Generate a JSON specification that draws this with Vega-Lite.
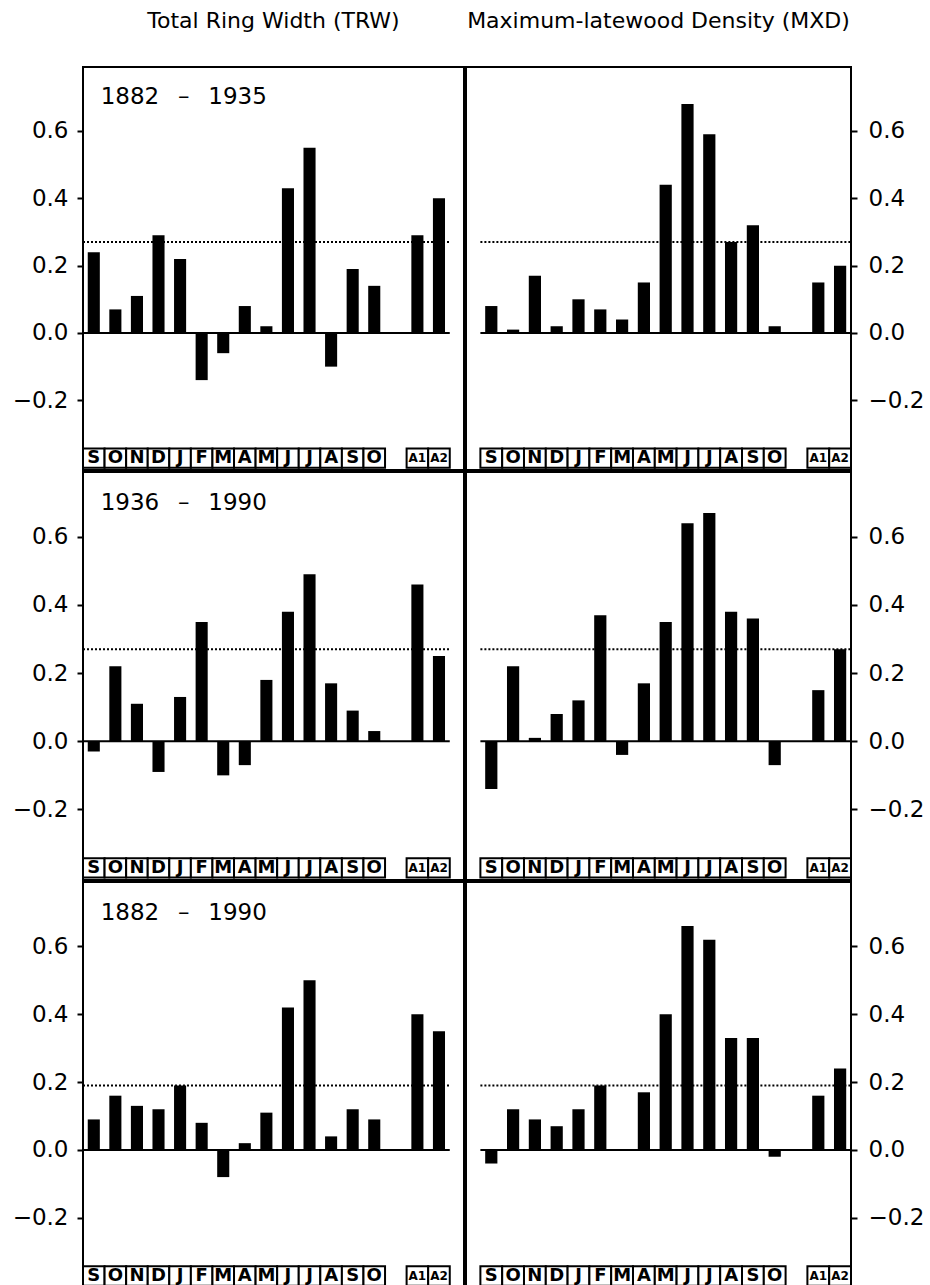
{
"$schema":"https://vega.github.io/schema/vega-lite/v6.json",
"padding":{"left":5,"top":9,"right":5,"bottom":0},
"background":"white",
"config":{"view":{"stroke":"black","strokeWidth":2},
"axis":{"grid":false,"domain":false,"tickColor":"black","tickWidth":2,"tickSize":6,"labelFontSize":23,"labelColor":"black","labelFont":"DejaVu Sans","title":null},
"title":{"fontSize":22,"fontWeight":"normal","font":"DejaVu Sans","color":"black","offset":34}},
"datasets":{
"months":[{"m":"Sep-1","lab":"S"},{"m":"Oct-1","lab":"O"},{"m":"Nov-1","lab":"N"},{"m":"Dec-1","lab":"D"},{"m":"Jan","lab":"J"},{"m":"Feb","lab":"F"},{"m":"Mar","lab":"M"},{"m":"Apr","lab":"A"},{"m":"May","lab":"M"},{"m":"Jun","lab":"J"},{"m":"Jul","lab":"J"},{"m":"Aug","lab":"A"},{"m":"Sep","lab":"S"},{"m":"Oct","lab":"O"},{"m":"A1","lab":"A1"},{"m":"A2","lab":"A2"}],
"panels":[{"s":"TRW","p":"1882-1935","label":"1882 \u2002\u2013\u2002 1935","level":0.27},{"s":"MXD","p":"1882-1935","label":"1882 \u2002\u2013\u2002 1935","level":0.27},{"s":"TRW","p":"1936-1990","label":"1936 \u2002\u2013\u2002 1990","level":0.27},{"s":"MXD","p":"1936-1990","label":"1936 \u2002\u2013\u2002 1990","level":0.27},{"s":"TRW","p":"1882-1990","label":"1882 \u2002\u2013\u2002 1990","level":0.19},{"s":"MXD","p":"1882-1990","label":"1882 \u2002\u2013\u2002 1990","level":0.19}],
"corr":[
{"s":"TRW","p":"1882-1935","m":"Sep-1","r":0.24},{"s":"TRW","p":"1882-1935","m":"Oct-1","r":0.07},{"s":"TRW","p":"1882-1935","m":"Nov-1","r":0.11},{"s":"TRW","p":"1882-1935","m":"Dec-1","r":0.29},{"s":"TRW","p":"1882-1935","m":"Jan","r":0.22},{"s":"TRW","p":"1882-1935","m":"Feb","r":-0.14},{"s":"TRW","p":"1882-1935","m":"Mar","r":-0.06},{"s":"TRW","p":"1882-1935","m":"Apr","r":0.08},{"s":"TRW","p":"1882-1935","m":"May","r":0.02},{"s":"TRW","p":"1882-1935","m":"Jun","r":0.43},{"s":"TRW","p":"1882-1935","m":"Jul","r":0.55},{"s":"TRW","p":"1882-1935","m":"Aug","r":-0.10},{"s":"TRW","p":"1882-1935","m":"Sep","r":0.19},{"s":"TRW","p":"1882-1935","m":"Oct","r":0.14},{"s":"TRW","p":"1882-1935","m":"A1","r":0.29},{"s":"TRW","p":"1882-1935","m":"A2","r":0.40},
{"s":"MXD","p":"1882-1935","m":"Sep-1","r":0.08},{"s":"MXD","p":"1882-1935","m":"Oct-1","r":0.01},{"s":"MXD","p":"1882-1935","m":"Nov-1","r":0.17},{"s":"MXD","p":"1882-1935","m":"Dec-1","r":0.02},{"s":"MXD","p":"1882-1935","m":"Jan","r":0.10},{"s":"MXD","p":"1882-1935","m":"Feb","r":0.07},{"s":"MXD","p":"1882-1935","m":"Mar","r":0.04},{"s":"MXD","p":"1882-1935","m":"Apr","r":0.15},{"s":"MXD","p":"1882-1935","m":"May","r":0.44},{"s":"MXD","p":"1882-1935","m":"Jun","r":0.68},{"s":"MXD","p":"1882-1935","m":"Jul","r":0.59},{"s":"MXD","p":"1882-1935","m":"Aug","r":0.27},{"s":"MXD","p":"1882-1935","m":"Sep","r":0.32},{"s":"MXD","p":"1882-1935","m":"Oct","r":0.02},{"s":"MXD","p":"1882-1935","m":"A1","r":0.15},{"s":"MXD","p":"1882-1935","m":"A2","r":0.20},
{"s":"TRW","p":"1936-1990","m":"Sep-1","r":-0.03},{"s":"TRW","p":"1936-1990","m":"Oct-1","r":0.22},{"s":"TRW","p":"1936-1990","m":"Nov-1","r":0.11},{"s":"TRW","p":"1936-1990","m":"Dec-1","r":-0.09},{"s":"TRW","p":"1936-1990","m":"Jan","r":0.13},{"s":"TRW","p":"1936-1990","m":"Feb","r":0.35},{"s":"TRW","p":"1936-1990","m":"Mar","r":-0.10},{"s":"TRW","p":"1936-1990","m":"Apr","r":-0.07},{"s":"TRW","p":"1936-1990","m":"May","r":0.18},{"s":"TRW","p":"1936-1990","m":"Jun","r":0.38},{"s":"TRW","p":"1936-1990","m":"Jul","r":0.49},{"s":"TRW","p":"1936-1990","m":"Aug","r":0.17},{"s":"TRW","p":"1936-1990","m":"Sep","r":0.09},{"s":"TRW","p":"1936-1990","m":"Oct","r":0.03},{"s":"TRW","p":"1936-1990","m":"A1","r":0.46},{"s":"TRW","p":"1936-1990","m":"A2","r":0.25},
{"s":"MXD","p":"1936-1990","m":"Sep-1","r":-0.14},{"s":"MXD","p":"1936-1990","m":"Oct-1","r":0.22},{"s":"MXD","p":"1936-1990","m":"Nov-1","r":0.01},{"s":"MXD","p":"1936-1990","m":"Dec-1","r":0.08},{"s":"MXD","p":"1936-1990","m":"Jan","r":0.12},{"s":"MXD","p":"1936-1990","m":"Feb","r":0.37},{"s":"MXD","p":"1936-1990","m":"Mar","r":-0.04},{"s":"MXD","p":"1936-1990","m":"Apr","r":0.17},{"s":"MXD","p":"1936-1990","m":"May","r":0.35},{"s":"MXD","p":"1936-1990","m":"Jun","r":0.64},{"s":"MXD","p":"1936-1990","m":"Jul","r":0.67},{"s":"MXD","p":"1936-1990","m":"Aug","r":0.38},{"s":"MXD","p":"1936-1990","m":"Sep","r":0.36},{"s":"MXD","p":"1936-1990","m":"Oct","r":-0.07},{"s":"MXD","p":"1936-1990","m":"A1","r":0.15},{"s":"MXD","p":"1936-1990","m":"A2","r":0.27},
{"s":"TRW","p":"1882-1990","m":"Sep-1","r":0.09},{"s":"TRW","p":"1882-1990","m":"Oct-1","r":0.16},{"s":"TRW","p":"1882-1990","m":"Nov-1","r":0.13},{"s":"TRW","p":"1882-1990","m":"Dec-1","r":0.12},{"s":"TRW","p":"1882-1990","m":"Jan","r":0.19},{"s":"TRW","p":"1882-1990","m":"Feb","r":0.08},{"s":"TRW","p":"1882-1990","m":"Mar","r":-0.08},{"s":"TRW","p":"1882-1990","m":"Apr","r":0.02},{"s":"TRW","p":"1882-1990","m":"May","r":0.11},{"s":"TRW","p":"1882-1990","m":"Jun","r":0.42},{"s":"TRW","p":"1882-1990","m":"Jul","r":0.50},{"s":"TRW","p":"1882-1990","m":"Aug","r":0.04},{"s":"TRW","p":"1882-1990","m":"Sep","r":0.12},{"s":"TRW","p":"1882-1990","m":"Oct","r":0.09},{"s":"TRW","p":"1882-1990","m":"A1","r":0.40},{"s":"TRW","p":"1882-1990","m":"A2","r":0.35},
{"s":"MXD","p":"1882-1990","m":"Sep-1","r":-0.04},{"s":"MXD","p":"1882-1990","m":"Oct-1","r":0.12},{"s":"MXD","p":"1882-1990","m":"Nov-1","r":0.09},{"s":"MXD","p":"1882-1990","m":"Dec-1","r":0.07},{"s":"MXD","p":"1882-1990","m":"Jan","r":0.12},{"s":"MXD","p":"1882-1990","m":"Feb","r":0.19},{"s":"MXD","p":"1882-1990","m":"Mar","r":0.00},{"s":"MXD","p":"1882-1990","m":"Apr","r":0.17},{"s":"MXD","p":"1882-1990","m":"May","r":0.40},{"s":"MXD","p":"1882-1990","m":"Jun","r":0.66},{"s":"MXD","p":"1882-1990","m":"Jul","r":0.62},{"s":"MXD","p":"1882-1990","m":"Aug","r":0.33},{"s":"MXD","p":"1882-1990","m":"Sep","r":0.33},{"s":"MXD","p":"1882-1990","m":"Oct","r":-0.02},{"s":"MXD","p":"1882-1990","m":"A1","r":0.16},{"s":"MXD","p":"1882-1990","m":"A2","r":0.24}
]},
"resolve":{"scale":{"x":"independent","y":"independent"}},
"spacing":0,
"vconcat":[
{"spacing":0,"resolve":{"scale":{"x":"independent","y":"independent"}},"hconcat":[
{"width":381,"height":403,"title":{"text":"Total Ring Width (TRW)"},"layer":[
{"data":{"name":"corr"},"transform":[{"filter":"datum.s=='TRW' && datum.p=='1882-1935'"}],"mark":{"type":"bar","color":"black","width":{"band":0.56}},"encoding":{"x":{"field":"m","type":"nominal","scale":{"domain":["Sep-1","Oct-1","Nov-1","Dec-1","Jan","Feb","Mar","Apr","May","Jun","Jul","Aug","Sep","Oct","gap","A1","A2"],"paddingInner":0,"paddingOuter":0.33,"align":0},"axis":null},"y":{"field":"r","type":"quantitative","scale":{"domain":[-0.407,0.79],"nice":false},"axis":{"orient":"left","values":[-0.2,0,0.2,0.4,0.6],"format":".1f","minExtent":77,"maxExtent":77,"labelPadding":9}}}},
{"data":{"name":"panels"},"transform":[{"filter":"datum.s=='TRW' && datum.p=='1882-1935'"}],"mark":{"type":"rule","color":"black","strokeWidth":2},"encoding":{"x":{"datum":"Sep-1","bandPosition":0},"x2":{"datum":"A2","bandPosition":1},"y":{"datum":0}}},
{"data":{"name":"panels"},"transform":[{"filter":"datum.s=='TRW' && datum.p=='1882-1935'"}],"mark":{"type":"rule","color":"black","strokeWidth":2,"strokeDash":[2,2]},"encoding":{"x":{"datum":"Sep-1","bandPosition":0},"x2":{"datum":"A2","bandPosition":1},"y":{"field":"level","type":"quantitative"}}},
{"data":{"name":"months"},"mark":{"type":"rect","fill":"white","stroke":"black","strokeWidth":2},"encoding":{"x":{"field":"m","type":"nominal"},"y":{"datum":-0.343},"y2":{"datum":-0.4}}},
{"data":{"name":"months"},"transform":[{"filter":"length(datum.lab)==1"}],"mark":{"type":"text","font":"DejaVu Sans","fontSize":18,"fontWeight":"bold","baseline":"middle","color":"black"},"encoding":{"x":{"field":"m","type":"nominal"},"y":{"datum":-0.372},"text":{"field":"lab"}}},
{"data":{"name":"months"},"transform":[{"filter":"length(datum.lab)==2"}],"mark":{"type":"text","font":"DejaVu Sans","fontSize":12,"fontWeight":"bold","baseline":"middle","color":"black"},"encoding":{"x":{"field":"m","type":"nominal"},"y":{"datum":-0.372},"text":{"field":"lab"}}},
{"data":{"name":"panels"},"transform":[{"filter":"datum.s=='TRW' && datum.p=='1882-1935'"}],"mark":{"type":"text","align":"left","baseline":"middle","fontSize":23,"font":"DejaVu Sans","color":"black"},"encoding":{"x":{"datum":"Sep-1","bandPosition":0.82},"y":{"datum":0.7},"text":{"field":"label"}}}
]},
{"width":385,"height":403,"title":{"text":"Maximum-latewood Density (MXD)"},"layer":[
{"data":{"name":"corr"},"transform":[{"filter":"datum.s=='MXD' && datum.p=='1882-1935'"}],"mark":{"type":"bar","color":"black","width":{"band":0.56}},"encoding":{"x":{"field":"m","type":"nominal","scale":{"domain":["Sep-1","Oct-1","Nov-1","Dec-1","Jan","Feb","Mar","Apr","May","Jun","Jul","Aug","Sep","Oct","gap","A1","A2"],"paddingInner":0,"paddingOuter":0.33,"align":1},"axis":null},"y":{"field":"r","type":"quantitative","scale":{"domain":[-0.407,0.79],"nice":false},"axis":{"orient":"right","values":[-0.2,0,0.2,0.4,0.6],"format":".1f","labelPadding":11}}}},
{"data":{"name":"panels"},"transform":[{"filter":"datum.s=='MXD' && datum.p=='1882-1935'"}],"mark":{"type":"rule","color":"black","strokeWidth":2},"encoding":{"x":{"datum":"Sep-1","bandPosition":0},"x2":{"datum":"A2","bandPosition":1},"y":{"datum":0}}},
{"data":{"name":"panels"},"transform":[{"filter":"datum.s=='MXD' && datum.p=='1882-1935'"}],"mark":{"type":"rule","color":"black","strokeWidth":2,"strokeDash":[2,2]},"encoding":{"x":{"datum":"Sep-1","bandPosition":0},"x2":{"datum":"A2","bandPosition":1},"y":{"field":"level","type":"quantitative"}}},
{"data":{"name":"months"},"mark":{"type":"rect","fill":"white","stroke":"black","strokeWidth":2},"encoding":{"x":{"field":"m","type":"nominal"},"y":{"datum":-0.343},"y2":{"datum":-0.4}}},
{"data":{"name":"months"},"transform":[{"filter":"length(datum.lab)==1"}],"mark":{"type":"text","font":"DejaVu Sans","fontSize":18,"fontWeight":"bold","baseline":"middle","color":"black"},"encoding":{"x":{"field":"m","type":"nominal"},"y":{"datum":-0.372},"text":{"field":"lab"}}},
{"data":{"name":"months"},"transform":[{"filter":"length(datum.lab)==2"}],"mark":{"type":"text","font":"DejaVu Sans","fontSize":12,"fontWeight":"bold","baseline":"middle","color":"black"},"encoding":{"x":{"field":"m","type":"nominal"},"y":{"datum":-0.372},"text":{"field":"lab"}}}
]}
]},
{"spacing":0,"resolve":{"scale":{"x":"independent","y":"independent"}},"hconcat":[
{"width":381,"height":408,"layer":[
{"data":{"name":"corr"},"transform":[{"filter":"datum.s=='TRW' && datum.p=='1936-1990'"}],"mark":{"type":"bar","color":"black","width":{"band":0.56}},"encoding":{"x":{"field":"m","type":"nominal","scale":{"domain":["Sep-1","Oct-1","Nov-1","Dec-1","Jan","Feb","Mar","Apr","May","Jun","Jul","Aug","Sep","Oct","gap","A1","A2"],"paddingInner":0,"paddingOuter":0.33,"align":0},"axis":null},"y":{"field":"r","type":"quantitative","scale":{"domain":[-0.407,0.79],"nice":false},"axis":{"orient":"left","values":[-0.2,0,0.2,0.4,0.6],"format":".1f","minExtent":77,"maxExtent":77,"labelPadding":9}}}},
{"data":{"name":"panels"},"transform":[{"filter":"datum.s=='TRW' && datum.p=='1936-1990'"}],"mark":{"type":"rule","color":"black","strokeWidth":2},"encoding":{"x":{"datum":"Sep-1","bandPosition":0},"x2":{"datum":"A2","bandPosition":1},"y":{"datum":0}}},
{"data":{"name":"panels"},"transform":[{"filter":"datum.s=='TRW' && datum.p=='1936-1990'"}],"mark":{"type":"rule","color":"black","strokeWidth":2,"strokeDash":[2,2]},"encoding":{"x":{"datum":"Sep-1","bandPosition":0},"x2":{"datum":"A2","bandPosition":1},"y":{"field":"level","type":"quantitative"}}},
{"data":{"name":"months"},"mark":{"type":"rect","fill":"white","stroke":"black","strokeWidth":2},"encoding":{"x":{"field":"m","type":"nominal"},"y":{"datum":-0.343},"y2":{"datum":-0.4}}},
{"data":{"name":"months"},"transform":[{"filter":"length(datum.lab)==1"}],"mark":{"type":"text","font":"DejaVu Sans","fontSize":18,"fontWeight":"bold","baseline":"middle","color":"black"},"encoding":{"x":{"field":"m","type":"nominal"},"y":{"datum":-0.372},"text":{"field":"lab"}}},
{"data":{"name":"months"},"transform":[{"filter":"length(datum.lab)==2"}],"mark":{"type":"text","font":"DejaVu Sans","fontSize":12,"fontWeight":"bold","baseline":"middle","color":"black"},"encoding":{"x":{"field":"m","type":"nominal"},"y":{"datum":-0.372},"text":{"field":"lab"}}},
{"data":{"name":"panels"},"transform":[{"filter":"datum.s=='TRW' && datum.p=='1936-1990'"}],"mark":{"type":"text","align":"left","baseline":"middle","fontSize":23,"font":"DejaVu Sans","color":"black"},"encoding":{"x":{"datum":"Sep-1","bandPosition":0.82},"y":{"datum":0.7},"text":{"field":"label"}}}
]},
{"width":385,"height":408,"layer":[
{"data":{"name":"corr"},"transform":[{"filter":"datum.s=='MXD' && datum.p=='1936-1990'"}],"mark":{"type":"bar","color":"black","width":{"band":0.56}},"encoding":{"x":{"field":"m","type":"nominal","scale":{"domain":["Sep-1","Oct-1","Nov-1","Dec-1","Jan","Feb","Mar","Apr","May","Jun","Jul","Aug","Sep","Oct","gap","A1","A2"],"paddingInner":0,"paddingOuter":0.33,"align":1},"axis":null},"y":{"field":"r","type":"quantitative","scale":{"domain":[-0.407,0.79],"nice":false},"axis":{"orient":"right","values":[-0.2,0,0.2,0.4,0.6],"format":".1f","labelPadding":11}}}},
{"data":{"name":"panels"},"transform":[{"filter":"datum.s=='MXD' && datum.p=='1936-1990'"}],"mark":{"type":"rule","color":"black","strokeWidth":2},"encoding":{"x":{"datum":"Sep-1","bandPosition":0},"x2":{"datum":"A2","bandPosition":1},"y":{"datum":0}}},
{"data":{"name":"panels"},"transform":[{"filter":"datum.s=='MXD' && datum.p=='1936-1990'"}],"mark":{"type":"rule","color":"black","strokeWidth":2,"strokeDash":[2,2]},"encoding":{"x":{"datum":"Sep-1","bandPosition":0},"x2":{"datum":"A2","bandPosition":1},"y":{"field":"level","type":"quantitative"}}},
{"data":{"name":"months"},"mark":{"type":"rect","fill":"white","stroke":"black","strokeWidth":2},"encoding":{"x":{"field":"m","type":"nominal"},"y":{"datum":-0.343},"y2":{"datum":-0.4}}},
{"data":{"name":"months"},"transform":[{"filter":"length(datum.lab)==1"}],"mark":{"type":"text","font":"DejaVu Sans","fontSize":18,"fontWeight":"bold","baseline":"middle","color":"black"},"encoding":{"x":{"field":"m","type":"nominal"},"y":{"datum":-0.372},"text":{"field":"lab"}}},
{"data":{"name":"months"},"transform":[{"filter":"length(datum.lab)==2"}],"mark":{"type":"text","font":"DejaVu Sans","fontSize":12,"fontWeight":"bold","baseline":"middle","color":"black"},"encoding":{"x":{"field":"m","type":"nominal"},"y":{"datum":-0.372},"text":{"field":"lab"}}}
]}
]},
{"spacing":0,"resolve":{"scale":{"x":"independent","y":"independent"}},"hconcat":[
{"width":381,"height":406,"layer":[
{"data":{"name":"corr"},"transform":[{"filter":"datum.s=='TRW' && datum.p=='1882-1990'"}],"mark":{"type":"bar","color":"black","width":{"band":0.56}},"encoding":{"x":{"field":"m","type":"nominal","scale":{"domain":["Sep-1","Oct-1","Nov-1","Dec-1","Jan","Feb","Mar","Apr","May","Jun","Jul","Aug","Sep","Oct","gap","A1","A2"],"paddingInner":0,"paddingOuter":0.33,"align":0},"axis":null},"y":{"field":"r","type":"quantitative","scale":{"domain":[-0.407,0.79],"nice":false},"axis":{"orient":"left","values":[-0.2,0,0.2,0.4,0.6],"format":".1f","minExtent":77,"maxExtent":77,"labelPadding":9}}}},
{"data":{"name":"panels"},"transform":[{"filter":"datum.s=='TRW' && datum.p=='1882-1990'"}],"mark":{"type":"rule","color":"black","strokeWidth":2},"encoding":{"x":{"datum":"Sep-1","bandPosition":0},"x2":{"datum":"A2","bandPosition":1},"y":{"datum":0}}},
{"data":{"name":"panels"},"transform":[{"filter":"datum.s=='TRW' && datum.p=='1882-1990'"}],"mark":{"type":"rule","color":"black","strokeWidth":2,"strokeDash":[2,2]},"encoding":{"x":{"datum":"Sep-1","bandPosition":0},"x2":{"datum":"A2","bandPosition":1},"y":{"field":"level","type":"quantitative"}}},
{"data":{"name":"months"},"mark":{"type":"rect","fill":"white","stroke":"black","strokeWidth":2},"encoding":{"x":{"field":"m","type":"nominal"},"y":{"datum":-0.343},"y2":{"datum":-0.4}}},
{"data":{"name":"months"},"transform":[{"filter":"length(datum.lab)==1"}],"mark":{"type":"text","font":"DejaVu Sans","fontSize":18,"fontWeight":"bold","baseline":"middle","color":"black"},"encoding":{"x":{"field":"m","type":"nominal"},"y":{"datum":-0.372},"text":{"field":"lab"}}},
{"data":{"name":"months"},"transform":[{"filter":"length(datum.lab)==2"}],"mark":{"type":"text","font":"DejaVu Sans","fontSize":12,"fontWeight":"bold","baseline":"middle","color":"black"},"encoding":{"x":{"field":"m","type":"nominal"},"y":{"datum":-0.372},"text":{"field":"lab"}}},
{"data":{"name":"panels"},"transform":[{"filter":"datum.s=='TRW' && datum.p=='1882-1990'"}],"mark":{"type":"text","align":"left","baseline":"middle","fontSize":23,"font":"DejaVu Sans","color":"black"},"encoding":{"x":{"datum":"Sep-1","bandPosition":0.82},"y":{"datum":0.7},"text":{"field":"label"}}}
]},
{"width":385,"height":406,"layer":[
{"data":{"name":"corr"},"transform":[{"filter":"datum.s=='MXD' && datum.p=='1882-1990'"}],"mark":{"type":"bar","color":"black","width":{"band":0.56}},"encoding":{"x":{"field":"m","type":"nominal","scale":{"domain":["Sep-1","Oct-1","Nov-1","Dec-1","Jan","Feb","Mar","Apr","May","Jun","Jul","Aug","Sep","Oct","gap","A1","A2"],"paddingInner":0,"paddingOuter":0.33,"align":1},"axis":null},"y":{"field":"r","type":"quantitative","scale":{"domain":[-0.407,0.79],"nice":false},"axis":{"orient":"right","values":[-0.2,0,0.2,0.4,0.6],"format":".1f","labelPadding":11}}}},
{"data":{"name":"panels"},"transform":[{"filter":"datum.s=='MXD' && datum.p=='1882-1990'"}],"mark":{"type":"rule","color":"black","strokeWidth":2},"encoding":{"x":{"datum":"Sep-1","bandPosition":0},"x2":{"datum":"A2","bandPosition":1},"y":{"datum":0}}},
{"data":{"name":"panels"},"transform":[{"filter":"datum.s=='MXD' && datum.p=='1882-1990'"}],"mark":{"type":"rule","color":"black","strokeWidth":2,"strokeDash":[2,2]},"encoding":{"x":{"datum":"Sep-1","bandPosition":0},"x2":{"datum":"A2","bandPosition":1},"y":{"field":"level","type":"quantitative"}}},
{"data":{"name":"months"},"mark":{"type":"rect","fill":"white","stroke":"black","strokeWidth":2},"encoding":{"x":{"field":"m","type":"nominal"},"y":{"datum":-0.343},"y2":{"datum":-0.4}}},
{"data":{"name":"months"},"transform":[{"filter":"length(datum.lab)==1"}],"mark":{"type":"text","font":"DejaVu Sans","fontSize":18,"fontWeight":"bold","baseline":"middle","color":"black"},"encoding":{"x":{"field":"m","type":"nominal"},"y":{"datum":-0.372},"text":{"field":"lab"}}},
{"data":{"name":"months"},"transform":[{"filter":"length(datum.lab)==2"}],"mark":{"type":"text","font":"DejaVu Sans","fontSize":12,"fontWeight":"bold","baseline":"middle","color":"black"},"encoding":{"x":{"field":"m","type":"nominal"},"y":{"datum":-0.372},"text":{"field":"lab"}}}
]}
]}
]
}
